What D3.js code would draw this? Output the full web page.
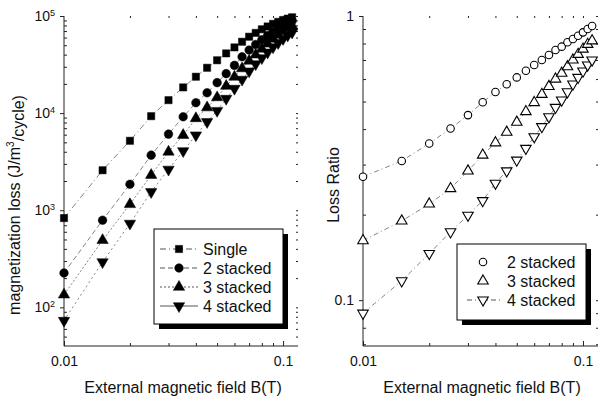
<!DOCTYPE html>
<html>
<head>
<meta charset="utf-8">
<script src="https://cdn.jsdelivr.net/npm/d3@7"></script>
<style>
  body { margin: 0; background: #fff; }
  svg { font-family: "Liberation Sans", Arial, sans-serif; }
  .axis text { font-size: 14px; fill: #111; font-family: "Liberation Sans", Arial, sans-serif; }
  .axis path, .axis line { stroke: #222; stroke-width: 1; }
</style>
</head>
<body>
<svg id="chart" width="598" height="397"></svg>
<script>
"use strict";

// external field B (T)
var fieldB = [0.01, 0.015, 0.02, 0.025, 0.03, 0.035, 0.04, 0.045, 0.05, 0.055, 0.06,
  0.065, 0.07, 0.075, 0.08, 0.085, 0.09, 0.095, 0.1, 0.105, 0.11];

// magnetization loss (J/m3/cycle)
var lossSingle = [830, 2580, 5190, 9300, 13600, 18400, 23700, 29300, 35000, 41200, 47500,
  54300, 61200, 67000, 73000, 78000, 83000, 87000, 91000, 94000, 97000];
var loss2 = [226, 790, 1850, 3690, 6080, 9160, 12800, 16200, 20600, 25500, 31000,
  38000, 44600, 50900, 57000, 63000, 68900, 74100, 79700, 84600, 89400];
var loss3 = [135, 491, 1150, 2300, 3990, 5930, 8820, 11400, 14500, 19000, 23600,
  28800, 34500, 39900, 45900, 51700, 58100, 63800, 69600, 74700, 79300];
var loss4 = [73, 293, 730, 1545, 2630, 4080, 5930, 8130, 10600, 14100, 17900,
  22200, 27000, 32000, 36900, 42200, 47800, 52900, 58200, 63200, 67900];

// loss ratio (stacked / single)
var ratio2 = [0.272, 0.309, 0.356, 0.402, 0.448, 0.497, 0.540, 0.575, 0.608, 0.642, 0.672,
  0.700, 0.729, 0.759, 0.780, 0.808, 0.830, 0.852, 0.876, 0.900, 0.922];
var ratio3 = [0.162, 0.190, 0.218, 0.247, 0.285, 0.324, 0.358, 0.390, 0.423, 0.461, 0.496,
  0.530, 0.565, 0.600, 0.629, 0.663, 0.700, 0.733, 0.765, 0.795, 0.818];
var ratio4 = [0.090, 0.117, 0.146, 0.174, 0.199, 0.224, 0.258, 0.285, 0.311, 0.342, 0.376,
  0.408, 0.442, 0.477, 0.506, 0.541, 0.576, 0.608, 0.640, 0.672, 0.700];

var lossTicks = [100, 1000, 10000, 100000];
var ratioTicks = [0.1, 1];
var fieldTicks = [0.01, 0.1];

var svg = d3.select('#chart');

var symSquare = d3.symbol().type(d3.symbolSquare).size(52);
var symCircle = d3.symbol().type(d3.symbolCircle).size(58);
var symTriUp = d3.symbol().type(d3.symbolTriangle).size(56);
var symCircleO = d3.symbol().type(d3.symbolCircle).size(44);
var symTriO = d3.symbol().type(d3.symbolTriangle).size(48);

function minorTicks(lo, hi) {
  var out = [];
  for (var e = Math.floor(Math.log10(lo)); e <= Math.ceil(Math.log10(hi)); e++) {
    for (var k = 2; k <= 9; k++) {
      var v = k * Math.pow(10, e);
      if (v > lo && v < hi) out.push(v);
    }
  }
  return out;
}

function drawFrame(g, X, Y, yTicks, yFmt) {
  var xr = X.range(), yr = Y.range();
  var xd = X.domain(), yd = Y.domain();

  // bottom
  g.append('g').attr('class', 'axis')
    .attr('transform', 'translate(0,' + yr[0] + ')')
    .call(d3.axisBottom(X).tickValues(fieldTicks).tickSize(-5).tickPadding(10)
      .tickFormat(d3.format('')))
    .call(a => a.select('.domain').attr('d', 'M' + xr[0] + ',0H' + xr[1]));
  g.append('g').attr('class', 'axis')
    .attr('transform', 'translate(0,' + yr[0] + ')')
    .call(d3.axisBottom(X).tickValues(minorTicks(xd[0], xd[1])).tickSize(-3).tickFormat(''))
    .call(a => a.select('.domain').remove());

  // left
  var left = g.append('g').attr('class', 'axis')
    .attr('transform', 'translate(' + xr[0] + ',0)')
    .call(d3.axisLeft(Y).tickValues(yTicks).tickSize(4).tickPadding(5).tickFormat(yFmt))
    .call(a => a.select('.domain').attr('d', 'M0,' + yr[0] + 'V' + yr[1]));
  g.append('g').attr('class', 'axis')
    .attr('transform', 'translate(' + xr[0] + ',0)')
    .call(d3.axisLeft(Y).tickValues(minorTicks(yd[0], yd[1])).tickSize(-3).tickFormat(''))
    .call(a => a.select('.domain').remove());

  // top and right: tick marks only
  g.append('g').attr('class', 'axis')
    .attr('transform', 'translate(0,' + yr[1] + ')')
    .call(d3.axisTop(X).tickValues(minorTicks(xd[0], xd[1]).concat([0.1])).tickSize(-2).tickFormat(''))
    .call(a => a.select('.domain').remove());
  g.append('g').attr('class', 'axis')
    .attr('transform', 'translate(' + xr[1] + ',0)')
    .call(d3.axisRight(Y).tickValues(minorTicks(yd[0], yd[1]).concat(yTicks)).tickSize(-2).tickFormat(''))
    .call(a => a.select('.domain').remove());
  return left;
}

function drawSeries(g, X, Y, vals, sym, dash, filled, rot) {
  var pts = fieldB.map((b, i) => [b, vals[i]]);
  g.append('path')
    .datum(pts)
    .attr('fill', 'none')
    .attr('stroke', '#666')
    .attr('stroke-width', 0.8)
    .attr('stroke-dasharray', dash)
    .attr('d', d3.line().x(d => X(d[0])).y(d => Y(d[1])));
  g.selectAll(null)
    .data(pts)
    .enter().append('path')
    .attr('d', sym)
    .attr('transform', d => 'translate(' + X(d[0]) + ',' + Y(d[1]) + ')' + (rot ? ' rotate(180)' : ''))
    .attr('fill', filled ? '#000' : '#fff')
    .attr('stroke', '#000')
    .attr('stroke-width', filled ? 0.5 : 1.1);
}

function drawLegend(g, x, y, w, h, rows) {
  g.append('rect').attr('x', x + 5).attr('y', y + 5).attr('width', w).attr('height', h).attr('fill', '#000');
  g.append('rect').attr('x', x).attr('y', y).attr('width', w).attr('height', h)
    .attr('fill', '#fff').attr('stroke', '#000').attr('stroke-width', 1);
  rows.forEach(function (r, i) {
    var cy = y + r.top + i * r.step;
    if (r.dash) {
      g.append('line').attr('x1', x + r.lx0).attr('x2', x + r.lx1).attr('y1', cy).attr('y2', cy)
        .attr('stroke', '#555').attr('stroke-width', 1).attr('stroke-dasharray', r.dash);
    }
    g.append('path').attr('d', r.sym)
      .attr('transform', 'translate(' + (x + r.mx) + ',' + cy + ')' + (r.rot ? ' rotate(180)' : ''))
      .attr('fill', r.filled ? '#000' : '#fff').attr('stroke', '#000')
      .attr('stroke-width', r.filled ? 0.5 : 1.1);
    g.append('text').attr('x', x + r.tx).attr('y', cy).attr('dy', '0.35em')
      .attr('font-size', 16).attr('fill', '#111').text(r.label);
  });
}

// ---------- left panel ----------
var XL = d3.scaleLog().domain([0.01, 0.117]).range([64, 298]);
var YL = d3.scaleLog().domain([40, 100000]).range([346, 16]);
var gl = svg.append('g');

var leftAxis = drawFrame(gl, XL, YL, lossTicks, d => '10|' + Math.round(Math.log10(d)));
leftAxis.selectAll('.tick text').each(function () {
  var parts = d3.select(this).text().split('|');
  var t = d3.select(this).text(parts[0]);
  t.append('tspan').attr('dy', '-0.6em').attr('font-size', 9).text(parts[1]);
});

drawSeries(gl, XL, YL, lossSingle, symSquare, '6,3,1,3', true, false);
drawSeries(gl, XL, YL, loss2, symCircle, '5,3', true, false);
drawSeries(gl, XL, YL, loss3, symTriUp, '2,2', true, false);
drawSeries(gl, XL, YL, loss4, symTriUp, '2,3', true, true);

drawLegend(gl, 154, 229, 129, 95, [
  { label: 'Single', sym: symSquare, filled: true, dash: '6,3,1,3' },
  { label: '2 stacked', sym: symCircle, filled: true, dash: '5,3' },
  { label: '3 stacked', sym: symTriUp, filled: true, dash: '2,2' },
  { label: '4 stacked', sym: symTriUp, filled: true, dash: '9,0', rot: true }
].map(r => Object.assign(r, { top: 20, step: 19, lx0: 6, lx1: 44, mx: 25, tx: 49 })));

gl.append('text')
  .attr('transform', 'translate(20,205) rotate(-90)')
  .attr('text-anchor', 'middle').attr('font-size', 16).attr('fill', '#111')
  .text('magnetization loss (J/m')
  .call(t => {
    t.append('tspan').attr('dy', '-0.6em').attr('font-size', 10).text('3');
    t.append('tspan').attr('dy', '0.6em').text('/cycle)');
  });
gl.append('text').attr('x', 183).attr('y', 393).attr('text-anchor', 'middle')
  .attr('font-size', 16).attr('fill', '#111').text('External magnetic field B(T)');

// ---------- right panel ----------
var XR = d3.scaleLog().domain([0.01, 0.117]).range([363, 598]);
var YR = d3.scaleLog().domain([0.069, 1]).range([346, 16]);
var gr = svg.append('g');

drawFrame(gr, XR, YR, ratioTicks, d3.format(''));

drawSeries(gr, XR, YR, ratio2, symCircleO, '5,3,1,3', false, false);
drawSeries(gr, XR, YR, ratio3, symTriO, '5,3,1,3', false, false);
drawSeries(gr, XR, YR, ratio4, symTriO, '5,3,1,3', false, true);

drawLegend(gr, 457, 244, 129, 76, [
  { label: '2 stacked', sym: symCircleO },
  { label: '3 stacked', sym: symTriO },
  { label: '4 stacked', sym: symTriO, dash: '5,3,1,3', rot: true }
].map(r => Object.assign(r, { top: 18, step: 19, lx0: 10, lx1: 44, mx: 26, tx: 50 })));

gr.append('text')
  .attr('transform', 'translate(339,185) rotate(-90)')
  .attr('text-anchor', 'middle').attr('font-size', 16).attr('fill', '#111')
  .text('Loss Ratio');
gr.append('text').attr('x', 482).attr('y', 393).attr('text-anchor', 'middle')
  .attr('font-size', 16).attr('fill', '#111').text('External magnetic field B(T)');
</script>
</body>
</html>
